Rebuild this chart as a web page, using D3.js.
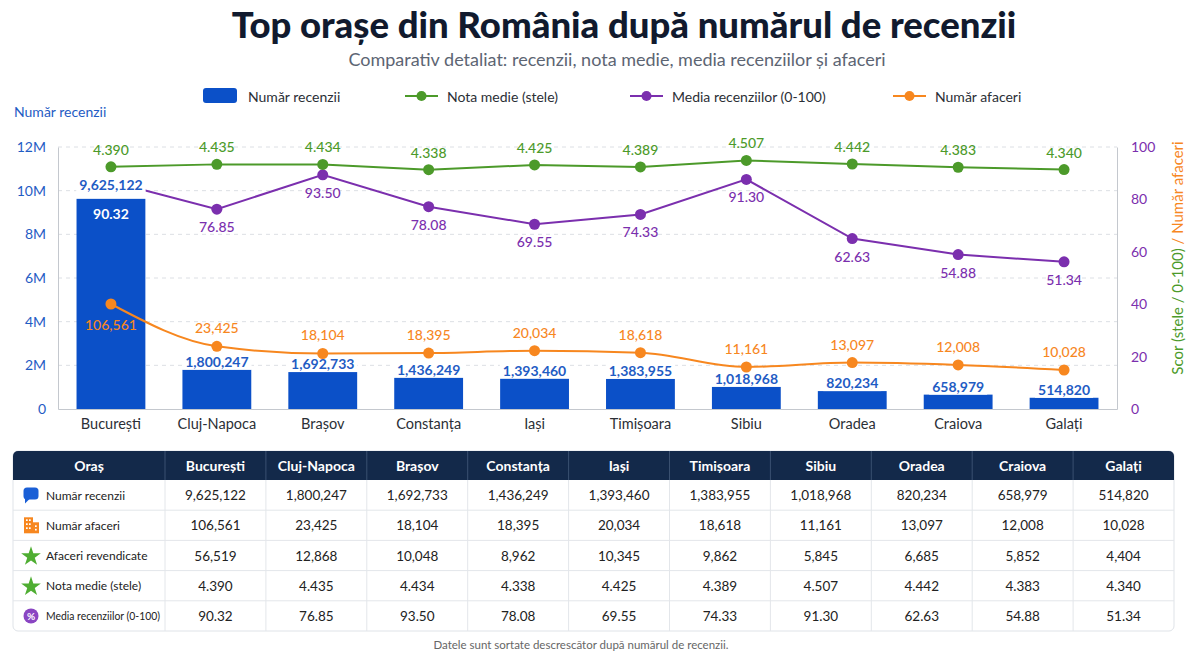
<!DOCTYPE html>
<html>
<head>
<meta charset="utf-8">
<script src="https://cdn.jsdelivr.net/npm/d3@7"></script>
<style>
  body { margin: 0; background: #fff; }
  svg { display: block; font-family: Lato, "Open Sans", sans-serif; }
</style>
</head>
<body>
<div id="chart"></div>
<script>
const cities = ['București', 'Cluj-Napoca', 'Brașov', 'Constanța', 'Iași', 'Timișoara', 'Sibiu', 'Oradea', 'Craiova', 'Galați'];
const recenzii = [9625122, 1800247, 1692733, 1436249, 1393460, 1383955, 1018968, 820234, 658979, 514820];
const afaceri = [106561, 23425, 18104, 18395, 20034, 18618, 11161, 13097, 12008, 10028];
const revendicate = [56519, 12868, 10048, 8962, 10345, 9862, 5845, 6685, 5852, 4404];
const notaMedie = [4.390, 4.435, 4.434, 4.338, 4.425, 4.389, 4.507, 4.442, 4.383, 4.340];
const mediaRecenzii = [90.32, 76.85, 93.50, 78.08, 69.55, 74.33, 91.30, 62.63, 54.88, 51.34];
const leftTicks = [0, 2e6, 4e6, 6e6, 8e6, 10e6, 12e6];
const rightTicks = [0, 20, 40, 60, 80, 100];

const BLUE = '#0b50c8', LABEL_BLUE = '#1f5cc4', GREEN = '#4c9a2a', PURPLE = '#7b2fae', ORANGE = '#f7871f';
const W = 1200, H = 658;
const plot = { left: 58, right: 1117, top: 147, bottom: 409 };

const svg = d3.select('#chart').append('svg')
    .attr('width', W)
    .attr('height', H);

// titles
svg.append('text')
    .attr('x', 624).attr('y', 38)
    .attr('text-anchor', 'middle')
    .style('font-size', '36.5px').style('font-weight', 900)
    .attr('fill', '#111a2e')
    .text('Top orașe din România după numărul de recenzii');

svg.append('text')
    .attr('x', 617).attr('y', 66)
    .attr('text-anchor', 'middle')
    .style('font-size', '18px')
    .attr('fill', '#5d6573')
    .text('Comparativ detaliat: recenzii, nota medie, media recenziilor și afaceri');

// scales
const x = d3.scaleBand().domain(cities)
    .range([plot.left, plot.right])
    .paddingInner(0.35).paddingOuter(0.175);
const yLeft = d3.scaleLinear().domain([0, 12e6]).range([plot.bottom, plot.top]);
const yRight = d3.scaleLinear().domain([0, 100]).range([plot.bottom, plot.top]);
// hidden scales for the line series
const yNota = d3.scaleLinear().domain([0, 4.75]).range([plot.bottom, plot.top]);
const yMedia = d3.scaleLinear().domain([-20, 107]).range([plot.bottom, plot.top]);
const yAfaceri = d3.scaleLog().domain([2480, 2.95e7]).range([plot.bottom, plot.top]);
const cx = i => x(cities[i]) + x.bandwidth() / 2;

// grid
svg.append('g')
    .selectAll('line')
    .data(leftTicks.slice(1))
    .enter().append('line')
    .attr('x1', plot.left).attr('x2', plot.right)
    .attr('y1', d => yLeft(d)).attr('y2', d => yLeft(d))
    .attr('stroke', '#dcdfe4')
    .attr('stroke-dasharray', '4,4');

// axes
const leftAxis = svg.append('g')
    .attr('transform', `translate(${plot.left},0)`)
    .call(d3.axisLeft(yLeft).tickValues(leftTicks).tickSize(0).tickPadding(12)
        .tickFormat(d => d === 0 ? '0' : (d / 1e6) + 'M'));
leftAxis.select('.domain').attr('stroke', '#c4c8ce');
leftAxis.selectAll('text').attr('fill', LABEL_BLUE).style('font-size', '14px').style('font-family', 'Lato');

const rightAxis = svg.append('g')
    .attr('transform', `translate(${plot.right},0)`)
    .call(d3.axisRight(yRight).tickValues(rightTicks).tickSize(0).tickPadding(14));
rightAxis.select('.domain').attr('stroke', '#c4c8ce');
rightAxis.selectAll('text').attr('fill', PURPLE).style('font-size', '14px').style('font-family', 'Lato');

const bottomAxis = svg.append('g')
    .attr('transform', `translate(0,${plot.bottom})`)
    .call(d3.axisBottom(x).tickSize(0).tickPadding(10));
bottomAxis.select('.domain').attr('stroke', '#c4c8ce');
bottomAxis.selectAll('text').attr('fill', '#2b2f36').style('font-size', '14.5px').style('font-family', 'Lato');

svg.append('text')
    .attr('x', 14).attr('y', 117)
    .style('font-size', '14px')
    .attr('fill', LABEL_BLUE)
    .text('Număr recenzii');

const rTitle = svg.append('text')
    .attr('transform', 'translate(1183,258) rotate(-90)')
    .attr('text-anchor', 'middle')
    .style('font-size', '15px');
rTitle.append('tspan').attr('fill', GREEN).text('Scor (stele / 0-100)');
rTitle.append('tspan').attr('fill', ORANGE).text(' / Număr afaceri');

// bars
svg.append('g')
    .selectAll('rect')
    .data(recenzii)
    .enter().append('rect')
    .attr('x', (d, i) => x(cities[i]))
    .attr('y', d => yLeft(d))
    .attr('width', x.bandwidth())
    .attr('height', d => plot.bottom - yLeft(d))
    .attr('fill', BLUE);

function drawSeries(values, scale, color, curve) {
    const line = d3.line()
        .x((d, i) => cx(i))
        .y(d => scale(d))
        .curve(curve);
    svg.append('path')
        .datum(values)
        .attr('fill', 'none')
        .attr('stroke', color)
        .attr('stroke-width', 2)
        .attr('d', line);
    svg.append('g')
        .selectAll('circle')
        .data(values)
        .enter().append('circle')
        .attr('cx', (d, i) => cx(i))
        .attr('cy', d => scale(d))
        .attr('r', 5.5)
        .attr('fill', color);
}
drawSeries(mediaRecenzii, yMedia, PURPLE, d3.curveLinear);
drawSeries(notaMedie, yNota, GREEN, d3.curveLinear);

// bar value labels on a white box; when the purple point sits just above the bar,
// the label moves up so its box covers that point
const barLabels = svg.append('g')
    .attr('text-anchor', 'middle')
    .style('font-size', '14px')
    .style('font-weight', 700);
recenzii.forEach((d, i) => {
    const top = yLeft(d);
    const py = yMedia(mediaRecenzii[i]);
    const mid = (top - py < 30) ? Math.min(top - 8, py + 4) : top - 8;
    const t = barLabels.append('text')
        .attr('x', cx(i))
        .attr('y', mid + 5)
        .attr('fill', LABEL_BLUE)
        .text(d3.format(',')(d));
    const len = t.node().getComputedTextLength();
    barLabels.insert('rect', 'text')
        .attr('x', cx(i) - len / 2 - 3)
        .attr('y', mid - 10)
        .attr('width', len + 6)
        .attr('height', Math.min(20, top - (mid - 10)))
        .attr('fill', '#fff');
});

drawSeries(afaceri, yAfaceri, ORANGE, d3.curveMonotoneX);

// line labels
const labels = svg.append('g')
    .attr('text-anchor', 'middle')
    .style('font-size', '14px');

labels.selectAll('.lbl-nota')
    .data(notaMedie)
    .enter().append('text')
    .attr('x', (d, i) => cx(i))
    .attr('y', d => yNota(d) - 12)
    .attr('fill', GREEN)
    .style('font-weight', 500)
    .text(d => d3.format('.3f')(d));

labels.selectAll('.lbl-media')
    .data(mediaRecenzii)
    .enter().append('text')
    .attr('x', (d, i) => cx(i))
    .attr('y', (d, i) => i === 0 ? yLeft(recenzii[0]) + 20 : yMedia(d) + 23)
    .attr('fill', (d, i) => i === 0 ? '#fff' : PURPLE)
    .style('font-weight', (d, i) => i === 0 ? 700 : 500)
    .text(d => d3.format('.2f')(d));

labels.selectAll('.lbl-afaceri')
    .data(afaceri)
    .enter().append('text')
    .attr('x', (d, i) => cx(i))
    .attr('y', (d, i) => i === 0 ? yAfaceri(d) + 26 : yAfaceri(d) - 13)
    .attr('fill', ORANGE)
    .style('font-weight', 500)
    .text(d => d3.format(',')(d));

// legend
const legend = svg.append('g').style('font-size', '14px').attr('fill', '#2b2f36');
legend.append('rect')
    .attr('x', 203).attr('y', 88).attr('width', 34).attr('height', 15).attr('rx', 3)
    .attr('fill', BLUE);
legend.append('text').attr('x', 248).attr('y', 102).text('Număr recenzii');

const legendLines = [
    { x: 405, color: GREEN, label: 'Nota medie (stele)' },
    { x: 630, color: PURPLE, label: 'Media recenziilor (0-100)' },
    { x: 893, color: ORANGE, label: 'Număr afaceri' }
];
legendLines.forEach(l => {
    legend.append('line')
        .attr('x1', l.x).attr('x2', l.x + 33)
        .attr('y1', 96).attr('y2', 96)
        .attr('stroke', l.color).attr('stroke-width', 2);
    legend.append('circle')
        .attr('cx', l.x + 16.5).attr('cy', 96).attr('r', 5)
        .attr('fill', l.color);
    legend.append('text').attr('x', l.x + 42).attr('y', 102).text(l.label);
});

// table
const table = { left: 13, right: 1174, top: 451, head: 29, rowH: 30.2, firstCol: 152 };
const colW = (table.right - table.left - table.firstCol) / cities.length;
const rows = [
    { label: 'Număr recenzii', icon: 'bubble', values: recenzii.map(d3.format(',')) },
    { label: 'Număr afaceri', icon: 'building', values: afaceri.map(d3.format(',')) },
    { label: 'Afaceri revendicate', icon: 'star', values: revendicate.map(d3.format(',')) },
    { label: 'Nota medie (stele)', icon: 'star', values: notaMedie.map(d3.format('.3f')) },
    { label: 'Media recenziilor (0-100)', icon: 'percent', values: mediaRecenzii.map(d3.format('.2f')) }
];
const tableH = table.head + rows.length * table.rowH;
const tg = svg.append('g');

tg.append('rect')
    .attr('x', table.left).attr('y', table.top)
    .attr('width', table.right - table.left).attr('height', tableH)
    .attr('rx', 5)
    .attr('fill', '#fff').attr('stroke', '#dfe3e8');

tg.append('path')
    .attr('d', `M${table.left},${table.top + table.head} V${table.top + 5} a5,5 0 0 1 5,-5 H${table.right - 5} a5,5 0 0 1 5,5 V${table.top + table.head} Z`)
    .attr('fill', '#13294a');

const colX = i => table.left + table.firstCol + i * colW;

tg.selectAll('.hsep')
    .data(cities)
    .enter().append('line')
    .attr('x1', (d, i) => colX(i)).attr('x2', (d, i) => colX(i))
    .attr('y1', table.top).attr('y2', table.top + table.head)
    .attr('stroke', '#3a5070');

tg.selectAll('.vsep')
    .data(cities)
    .enter().append('line')
    .attr('x1', (d, i) => colX(i)).attr('x2', (d, i) => colX(i))
    .attr('y1', table.top + table.head).attr('y2', table.top + tableH)
    .attr('stroke', '#e3e6ea');
tg.selectAll('.hline')
    .data(rows.slice(1))
    .enter().append('line')
    .attr('x1', table.left).attr('x2', table.right)
    .attr('y1', (d, i) => table.top + table.head + (i + 1) * table.rowH)
    .attr('y2', (d, i) => table.top + table.head + (i + 1) * table.rowH)
    .attr('stroke', '#e3e6ea');

tg.append('text')
    .attr('x', table.left + table.firstCol / 2).attr('y', table.top + 20)
    .attr('text-anchor', 'middle')
    .attr('fill', '#fff').style('font-size', '14px').style('font-weight', 700)
    .text('Oraș');
tg.selectAll('.hcity')
    .data(cities)
    .enter().append('text')
    .attr('x', (d, i) => colX(i) + colW / 2).attr('y', table.top + 20)
    .attr('text-anchor', 'middle')
    .attr('fill', '#fff').style('font-size', '14px').style('font-weight', 700)
    .text(d => d);

rows.forEach((row, r) => {
    const yMid = table.top + table.head + r * table.rowH + table.rowH / 2;
    const ix = 31;
    if (row.icon === 'bubble') {
        tg.append('rect').attr('x', ix - 7.5).attr('y', yMid - 7.5).attr('width', 15).attr('height', 12).attr('rx', 3.5).attr('fill', '#1a5fd6');
        tg.append('path').attr('d', `M${ix - 6},${yMid + 3} l0,5.5 l5.5,-5.5 z`).attr('fill', '#1a5fd6');
    } else if (row.icon === 'building') {
        tg.append('rect').attr('x', ix - 7).attr('y', yMid - 8).attr('width', 9).attr('height', 16).attr('fill', ORANGE);
        tg.append('rect').attr('x', ix + 2).attr('y', yMid - 3).attr('width', 6).attr('height', 11).attr('fill', ORANGE);
        [[-5, -6], [-2, -6], [-5, -2], [-2, -2], [-5, 2], [-2, 2], [4, 0], [4, 3.5]].forEach(p => {
            tg.append('rect').attr('x', ix + p[0]).attr('y', yMid + p[1]).attr('width', 1.7).attr('height', 1.7).attr('fill', '#fff');
        });
    } else if (row.icon === 'star') {
        tg.append('path')
            .attr('transform', `translate(${ix},${yMid + 1})`)
            .attr('d', d3.symbol(d3.symbolStar, 120)())
            .attr('fill', '#4fae32');
    } else {
        tg.append('circle').attr('cx', ix).attr('cy', yMid).attr('r', 7.5).attr('fill', '#8a45c2');
        tg.append('text').attr('x', ix).attr('y', yMid + 4).attr('text-anchor', 'middle')
            .attr('fill', '#fff').style('font-size', '10px').style('font-weight', 700).text('%');
    }
    const lt = tg.append('text')
        .attr('x', 46).attr('y', yMid + 4.5)
        .attr('fill', '#222')
        .style('font-size', '12px')
        .text(row.label);
    if (lt.node().getComputedTextLength() > 114) {
        lt.attr('textLength', 114).attr('lengthAdjust', 'spacingAndGlyphs');
    }
    tg.selectAll(null)
        .data(row.values)
        .enter().append('text')
        .attr('x', (d, i) => colX(i) + colW / 2)
        .attr('y', yMid + 5)
        .attr('text-anchor', 'middle')
        .attr('fill', '#222')
        .style('font-size', '13.5px')
        .text(d => d);
});

svg.append('text')
    .attr('x', 581).attr('y', 649)
    .attr('text-anchor', 'middle')
    .attr('fill', '#666')
    .style('font-size', '11.5px')
    .text('Datele sunt sortate descrescător după numărul de recenzii.');
</script>
</body>
</html>
